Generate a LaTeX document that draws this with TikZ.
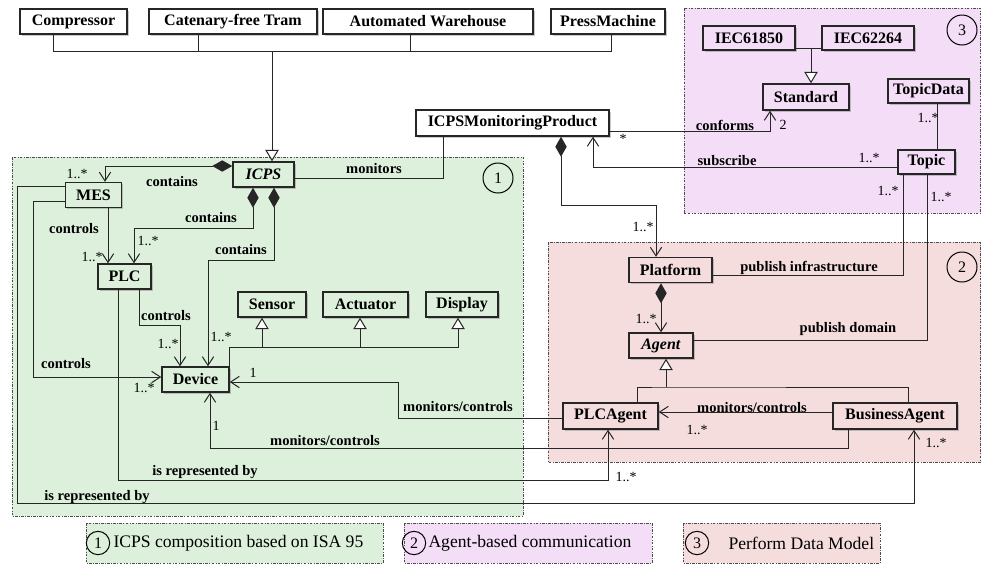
\documentclass[tikz,border=0pt]{standalone}
\usepackage{fontspec}
\setmainfont{Liberation Serif}
\usetikzlibrary{arrows.meta,shadows}

\definecolor{grpone}{RGB}{220,240,220}
\definecolor{grptwo}{RGB}{245,221,222}
\definecolor{grpthree}{RGB}{244,221,247}

\tikzset{every picture/.style={line width=0.75pt}}
\tikzset{
  cls/.style={draw=black!85, line width=1.1pt, fill=white, inner sep=0pt, minimum height=18.75pt,
    font=\fontsize{12}{14}\selectfont\bfseries,
    drop shadow={shadow xshift=1.2pt, shadow yshift=-1.2pt, opacity=0.35, fill=black!60}},
  lbl/.style={inner sep=0.75pt, font=\fontsize{10.9}{13}\selectfont\bfseries},
  mult/.style={inner sep=0.75pt, font=\fontsize{10.5}{12}\selectfont},
  grp/.style={draw=black!70, line width=0.6pt, dash pattern=on 2pt off 1pt on 0.6pt off 1pt},
  num/.style={draw=black, line width=0.75pt, circle, inner sep=0pt, minimum size=22.5pt, font=\fontsize{12}{14}\selectfont},
  conn/.style={draw=black!85, line width=0.75pt},
  gen/.style={-{Triangle[open, fill=white, length=8.5pt, width=10pt]}},
  nav/.style={-{Straight Barb[length=6.5pt, width=8.5pt]}},
  compnav/.style={{Diamond[length=15pt, width=8.5pt]}-{Straight Barb[length=6.5pt, width=8.5pt]}},
}

\begin{document}
\begin{tikzpicture}[x=0.75pt,y=0.75pt,yscale=-1,xscale=1]
    \useasboundingbox (0,0) rectangle (981,565);

    %Shape: Rectangle [ICPS composition]
    \draw[grp, fill=grpone] (12,157) rectangle (523,516);
    %Shape: Rectangle [agents]
    \draw[grp, fill=grptwo] (548,242) rectangle (980.5,462);
    %Shape: Rectangle [data model]
    \draw[grp, fill=grpthree] (684,8) rectangle (980.5,213);

    %Shape: Circle
    \node[num] (numA) at (498,178) {1};
    \node[num] (numB) at (962,267) {2};
    \node[num] (numC) at (962,30) {3};

    % Classes
    \node[cls, minimum width=80.25pt] (compr) at (73.5,21.5) {Compressor};
    \node[cls, minimum width=126pt] (tram) at (233,21.5) {Catenary-free Tram};
    \node[cls, minimum width=157.5pt] (ware) at (428,21.5) {Automated Warehouse};
    \node[cls, minimum width=85.5pt] (press) at (608,21.5) {PressMachine};
    \node[cls, minimum width=144.75pt, minimum height=19.5pt] (mon) at (512.5,123) {ICPSMonitoringProduct};

    \node[cls, fill=grpone, minimum width=45.75pt] (icps) at (263.5,174.5) {\textit{ICPS}};
    \node[cls, fill=grpone, minimum width=42pt] (mes) at (93.5,195) {MES};
    \node[cls, fill=grpone, minimum width=39.75pt] (plc) at (124.5,276.5) {PLC};
    \node[cls, fill=grpone, minimum width=50.25pt] (dev) at (195.5,379.5) {Device};
    \node[cls, fill=grpone, minimum width=51pt] (sens) at (272,304.5) {Sensor};
    \node[cls, fill=grpone, minimum width=63.75pt] (act) at (365.5,304.5) {Actuator};
    \node[cls, fill=grpone, minimum width=54pt] (disp) at (462,304.5) {Display};

    \node[cls, fill=grptwo, minimum width=62.25pt] (plat) at (670.5,270) {Platform};
    \node[cls, fill=grptwo, minimum width=48pt] (agent) at (661,345.5) {\textit{Agent}};
    \node[cls, fill=grptwo, minimum width=71.25pt, minimum height=19.5pt] (plcag) at (610.5,416) {PLCAgent};
    \node[cls, fill=grptwo, minimum width=93pt, minimum height=19.5pt] (busag) at (895,416) {BusinessAgent};

    \node[cls, fill=grpthree, minimum width=69pt, minimum height=18pt] (iecA) at (749,38) {IEC61850};
    \node[cls, fill=grpthree, minimum width=69pt, minimum height=18pt] (iecB) at (868,38) {IEC62264};
    \node[cls, fill=grpthree, minimum width=64.5pt, minimum height=19.5pt] (std) at (806,97) {Standard};
    \node[cls, fill=grpthree, minimum width=60.75pt, minimum height=18pt] (tdata) at (928.5,91) {TopicData};
    \node[cls, fill=grpthree, minimum width=42.75pt, minimum height=18pt] (topic) at (926.5,162) {Topic};

    % junctions
    \coordinate (hubM) at (272,51);
    \coordinate (hubI) at (811,48);
    \coordinate (hubA) at (666,387);
    \coordinate (hubS) at (262,347);
    \coordinate (hubT) at (360,347);

    %Straight Lines [machines]
    \draw[conn] (53,0 |- compr.south) |- (hubM);
    \draw[conn] (198,0 |- tram.south) |- (hubM);
    \draw[conn] (410,0 |- ware.south) |- (hubM);
    \draw[conn] (611,0 |- press.south) |- (hubM);
    \draw[conn, gen] (hubM) -- (hubM |- icps.north);

    %Straight Lines [devices]
    \draw[conn, gen] (dev.north east) |- (458,347) -- (458,0 |- disp.south);
    \draw[conn, gen] (hubS) -- (hubS |- sens.south);
    \draw[conn, gen] (hubT) -- (hubT |- act.south);

    %Straight Lines [contains]
    \draw[conn, compnav] (icps.west |- 0,166) -| (105,0 |- mes.north);
    \draw[conn, compnav] (253,0 |- icps.south) -- (253,228) -| (134,0 |- plc.north);
    \draw[conn, compnav] (274,0 |- icps.south) -- (274,260) -| (208,0 |- dev.north);
    \draw[conn, compnav] (561,0 |- mon.south) |- (656,205) -- (656,0 |- plat.north);
    \draw[conn, compnav] (661,0 |- plat.south) -- (661,0 |- agent.north);

    %Straight Lines [controls]
    \draw[conn, nav] (108,0 |- mes.south) -- (108,0 |- plc.north);
    \draw[conn, nav] (139,0 |- plc.south) -- (139,325) -| (180,0 |- dev.north);
    \draw[conn, nav] (mes.west |- 0,201) -| (33,377) -- (dev.west |- 0,377);

    %Straight Lines [is represented by]
    \draw[conn, nav] (mes.west |- 0,186) -| (17,503) -| (914,0 |- busag.south);
    \draw[conn, nav] (118,0 |- plc.south) |- (608,480) -- (608,0 |- plcag.south);

    %Straight Lines [monitoring]
    \draw[conn] (icps.east |- 0,178) -| (443,0 |- mon.south);
    \draw[conn, nav] (mon.east |- 0,131) -| (770,0 |- std.south);
    \draw[conn, nav] (topic.west |- 0,167) -| (593,0 |- mon.south);
    \draw[conn] (plat.east |- 0,275) -| (903,0 |- topic.south);
    \draw[conn] (agent.east |- 0,340) -| (927,0 |- topic.south);
    \draw[conn] (937,0 |- tdata.south) -- (937,0 |- topic.north);
    \draw[conn] (iecA.east |- hubI) -- (iecB.west |- hubI);
    \draw[conn, gen] (hubI) -- (hubI |- std.north);

    %Straight Lines [agents]
    \draw[conn, gen] (hubA) -- (hubA |- agent.south);
    \draw[conn] (637,0 |- plcag.north) |- (hubA) -| (908,0 |- busag.north);
    \draw[conn, nav] (busag.west |- 0,412) -- (plcag.east |- 0,412);
    \draw[conn, nav] (plcag.west |- 0,418) -| (398,382) -- (dev.east |- 0,382);
    \draw[conn, nav] (848,0 |- busag.south) |- (210,448) -- (210,0 |- dev.south);

    % Text Node
    \node[lbl] (tContA) at (172,182) {contains};
    \node[lbl] (tContB) at (211,218) {contains};
    \node[lbl] (tContC) at (241,250) {contains};
    \node[lbl] (tMon) at (374,169) {monitors};
    \node[lbl] (tCtrlA) at (74,229) {controls};
    \node[lbl] (tCtrlB) at (166,316) {controls};
    \node[lbl] (tCtrlC) at (66,364) {controls};
    \node[lbl] (tMcA) at (458,407) {monitors/controls};
    \node[lbl] (tMcB) at (325,441) {monitors/controls};
    \node[lbl] (tMcC) at (752,408) {monitors/controls};
    \node[lbl] (tRepA) at (205,472) {is represented by};
    \node[lbl] (tRepB) at (97,497) {is represented by};
    \node[lbl] (tConf) at (725,125) {conforms};
    \node[lbl] (tSub) at (727,161) {subscribe};
    \node[lbl] (tPubI) at (809,268) {publish infrastructure};
    \node[lbl] (tPubD) at (848,329) {publish domain};

    % Text Node
    \node[mult] (mA) at (77,174) {1..*};
    \node[mult] (mB) at (92,257) {1..*};
    \node[mult] (mC) at (148,241) {1..*};
    \node[mult] (mD) at (221,337) {1..*};
    \node[mult] (mE) at (168,344) {1..*};
    \node[mult] (mF) at (144,388) {1..*};
    \node[mult] (mG) at (253,373) {1};
    \node[mult] (mH) at (216,426) {1};
    \node[mult] (mI) at (626,477) {1..*};
    \node[mult] (mJ) at (936,443) {1..*};
    \node[mult] (mK) at (697,430) {1..*};
    \node[mult] (mL) at (623,139) {*};
    \node[mult] (mM) at (783,125) {2};
    \node[mult] (mN) at (869,158) {1..*};
    \node[mult] (mO) at (928,118) {1..*};
    \node[mult] (mP) at (888,191) {1..*};
    \node[mult] (mQ) at (941,197) {1..*};
    \node[mult] (mR) at (643,227) {1..*};
    \node[mult] (mS) at (646,319) {1..*};

    %Shape: Rectangle [legend]
    \draw[grp, fill=grpone] (86,523) rectangle (383,563);
    \draw[grp, fill=grpthree] (404,523) rectangle (652,563);
    \draw[grp, fill=grptwo] (683,523) rectangle (880,563);
    \node[num, minimum size=17.5pt] (legA) at (98,543) {1};
    \node[num, minimum size=17.5pt] (legB) at (414,543) {2};
    \node[num, minimum size=17.5pt] (legC) at (697,543) {3};
    \node[anchor=west, inner sep=0pt, font=\fontsize{13.2}{15}\selectfont] (legTA) at (113,543) {ICPS composition based on ISA 95};
    \node[anchor=west, inner sep=0pt, font=\fontsize{13.2}{15}\selectfont] (legTB) at (428,543) {Agent-based communication};
    \node[anchor=west, inner sep=0pt, font=\fontsize{13.2}{15}\selectfont] (legTC) at (728,543) {Perform Data Model};

\end{tikzpicture}
\end{document}
